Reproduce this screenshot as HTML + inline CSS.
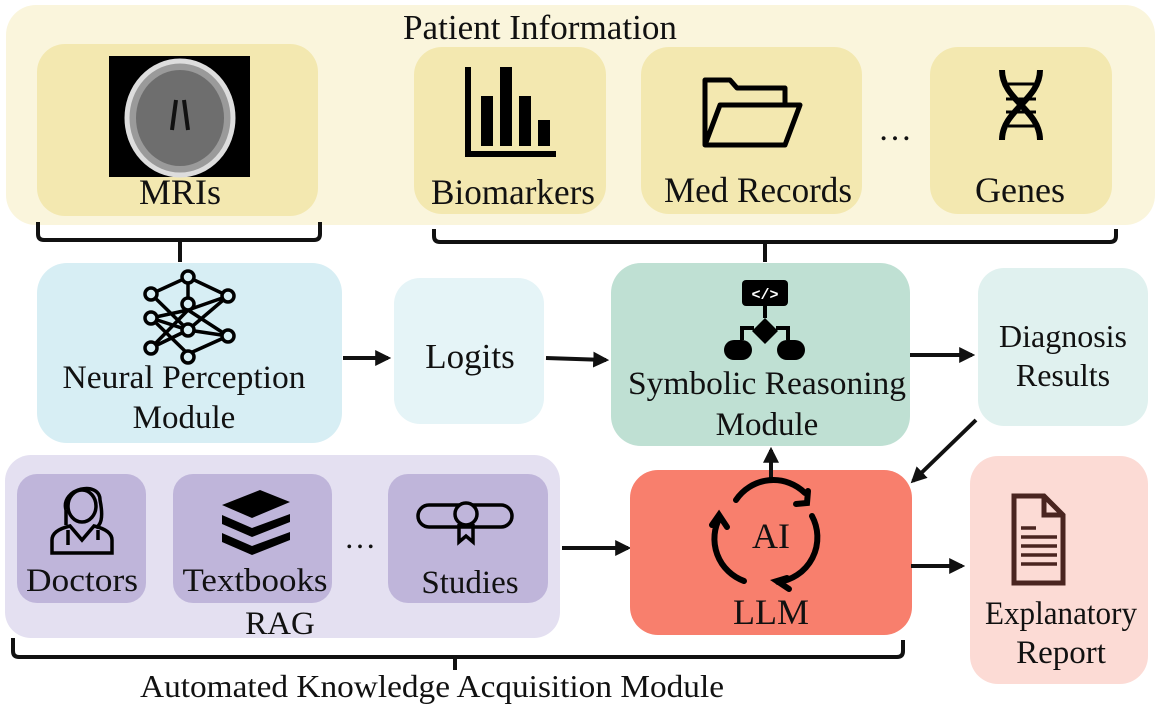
<!DOCTYPE html>
<html><head><meta charset="utf-8"><style>
html,body{margin:0;padding:0;background:#fff}
svg{display:block}
text{font-family:"Liberation Serif",serif;fill:#111}
</style></head><body>
<svg width="1162" height="707" viewBox="0 0 1162 707" xmlns="http://www.w3.org/2000/svg">
<defs>
<marker id="ah" markerWidth="4" markerHeight="4" refX="3.2" refY="2" orient="auto" markerUnits="strokeWidth">
<path d="M0,0 L4,2 L0,4 z" fill="#111"/></marker>
</defs>
<!-- Patient information -->
<rect x="6" y="5" width="1149" height="220" rx="30" fill="#faf5dc"/>
<text x="540" y="39" font-size="35" text-anchor="middle" textLength="274" lengthAdjust="spacingAndGlyphs">Patient Information</text>
<rect x="37" y="44" width="281" height="172" rx="28" fill="#f3e8b0"/>
<rect x="109" y="56" width="141" height="121" fill="#000"/>
<ellipse cx="180" cy="118" rx="53" ry="57" fill="#9a9a9a" stroke="#ddd" stroke-width="5"/>
<ellipse cx="180" cy="118" rx="44" ry="48" fill="#6e6e6e"/>
<path d="M176,100 L172,130 M184,100 L188,130" stroke="#111" stroke-width="4"/>
<text x="180" y="204" font-size="36" text-anchor="middle">MRIs</text>

<rect x="414" y="47" width="192" height="167" rx="28" fill="#f3e8b0"/>
<path d="M468,67 V154 H556" stroke="#000" stroke-width="6" fill="none"/>
<rect x="481" y="96" width="12" height="50" fill="#000"/>
<rect x="500" y="67" width="12" height="79" fill="#000"/>
<rect x="519" y="96" width="12" height="50" fill="#000"/>
<rect x="538" y="120" width="12" height="26" fill="#000"/>
<text x="513" y="204" font-size="36" text-anchor="middle" textLength="164" lengthAdjust="spacingAndGlyphs">Biomarkers</text>

<rect x="641" y="47" width="221" height="167" rx="28" fill="#f3e8b0"/>
<path d="M705,145 V80 H730 L737,88 H785 V105 M705,145 L720,105 H800 L785,145 Z" stroke="#000" stroke-width="5" fill="none" stroke-linejoin="round"/>
<text x="758" y="202" font-size="36" text-anchor="middle" textLength="188" lengthAdjust="spacingAndGlyphs">Med Records</text>
<text x="895" y="140" font-size="34" text-anchor="middle">…</text>

<rect x="930" y="47" width="182" height="167" rx="28" fill="#f3e8b0"/>
<path d="M1002,70 C1002,100 1040,110 1040,140 M1040,70 C1040,100 1002,110 1002,140" stroke="#000" stroke-width="6" fill="none"/>
<path d="M1008,84 H1034 M1006,99 H1036 M1006,112 H1036 M1008,126 H1034" stroke="#000" stroke-width="3"/>
<text x="1020" y="202" font-size="36" text-anchor="middle">Genes</text>

<!-- top brackets -->
<path d="M38,222 V234 Q38,240 44,240 H314 Q320,240 320,234 V222 M180,240 V262" stroke="#111" stroke-width="4" fill="none"/>
<path d="M434,229 V236 Q434,242 440,242 H1110 Q1116,242 1116,236 V229 M765,242 V262" stroke="#111" stroke-width="4" fill="none"/>

<!-- Neural -->
<rect x="37" y="263" width="305" height="180" rx="30" fill="#d7eef4"/>
<g stroke="#000" stroke-width="3.5" fill="none">
<path d="M151,294 L188,330 L228,296 M151,294 L188,277 L228,296 M151,318 L188,310 M151,318 L188,330 L228,336 M151,318 L188,354 M151,348 L188,330 M151,348 L188,310 M188,310 L228,296 M188,277 L188,310 L228,336 M188,354 L228,336"/>
<circle cx="151" cy="294" r="6" fill="#d7eef4"/><circle cx="151" cy="318" r="6" fill="#d7eef4"/><circle cx="151" cy="348" r="6" fill="#d7eef4"/>
<circle cx="188" cy="277" r="6" fill="#d7eef4"/><circle cx="188" cy="304" r="6" fill="#d7eef4"/><circle cx="188" cy="330" r="6" fill="#d7eef4"/><circle cx="188" cy="357" r="6" fill="#d7eef4"/>
<circle cx="228" cy="296" r="6" fill="#d7eef4"/><circle cx="228" cy="336" r="6" fill="#d7eef4"/>
</g>
<text x="184" y="388" font-size="33" text-anchor="middle" textLength="243" lengthAdjust="spacingAndGlyphs">Neural Perception</text>
<text x="184" y="428" font-size="33" text-anchor="middle">Module</text>

<line x1="343" y1="358" x2="388" y2="358" stroke="#111" stroke-width="4" marker-end="url(#ah)"/>
<rect x="394" y="278" width="150" height="146" rx="26" fill="#e5f4f7"/>
<text x="470" y="368" font-size="35" text-anchor="middle">Logits</text>
<line x1="546" y1="358" x2="606" y2="360" stroke="#111" stroke-width="4" marker-end="url(#ah)"/>

<!-- Symbolic -->
<rect x="611" y="263" width="299" height="183" rx="30" fill="#bfe0d3"/>
<rect x="742" y="280" width="46" height="26" rx="4" fill="#000"/>
<text x="765" y="299" font-size="15" text-anchor="middle" style="fill:#fff;font-family:'Liberation Mono',monospace;font-weight:bold">&lt;/&gt;</text>
<path d="M765,306 V318 M742,340 V328 H754 M788,340 V328 H776" stroke="#000" stroke-width="4" fill="none"/>
<path d="M765,318 L778,331 L765,344 L752,331 Z" fill="#000"/>
<rect x="724" y="340" width="28" height="20" rx="10" fill="#000"/>
<rect x="777" y="340" width="28" height="20" rx="10" fill="#000"/>
<text x="767" y="394" font-size="33" text-anchor="middle" textLength="278" lengthAdjust="spacingAndGlyphs">Symbolic Reasoning</text>
<text x="767" y="435" font-size="33" text-anchor="middle">Module</text>

<line x1="910" y1="355" x2="972" y2="355" stroke="#111" stroke-width="4" marker-end="url(#ah)"/>
<rect x="978" y="268" width="170" height="158" rx="26" fill="#e0f1ef"/>
<text x="1063" y="347" font-size="32" text-anchor="middle">Diagnosis</text>
<text x="1063" y="386" font-size="32" text-anchor="middle">Results</text>

<line x1="976" y1="420" x2="913" y2="481" stroke="#111" stroke-width="4" marker-end="url(#ah)"/>

<!-- RAG -->
<rect x="5" y="455" width="555" height="183" rx="26" fill="#e4e0f1"/>
<rect x="17" y="474" width="129" height="129" rx="20" fill="#bfb5da"/>
<rect x="173" y="474" width="159" height="129" rx="20" fill="#bfb5da"/>
<rect x="388" y="474" width="160" height="129" rx="20" fill="#bfb5da"/>
<g stroke="#000" stroke-width="3.5" fill="none">
<path d="M66,510 C60,488 100,480 100,500 C104,520 100,525 96,528 M66,510 L66,525"/>
<ellipse cx="82" cy="506" rx="14" ry="16"/>
<path d="M52,553 V540 C52,530 66,527 70,526 L82,540 L94,526 C98,527 112,530 112,540 V553 Z"/>
<path d="M68,530 V545 M98,530 V540"/>
</g>
<g fill="#000">
<path d="M222,505 L260,490 L290,502 L252,518 Z"/>
<path d="M222,515 L252,528 L290,514 L290,522 L252,537 L222,524 Z"/>
<path d="M222,533 L252,546 L290,532 L290,540 L252,555 L222,542 Z"/>
</g>
<g stroke="#000" stroke-width="3.5" fill="none">
<rect x="418" y="505" width="94" height="22" rx="11"/>
<circle cx="466" cy="514" r="11" fill="#bfb5da"/>
<path d="M459,524 V542 L466,536 L473,542 V524"/>
</g>
<text x="82" y="591" font-size="33" text-anchor="middle" textLength="112" lengthAdjust="spacingAndGlyphs">Doctors</text>
<text x="255" y="591" font-size="33" text-anchor="middle" textLength="145" lengthAdjust="spacingAndGlyphs">Textbooks</text>
<text x="470" y="593" font-size="33" text-anchor="middle">Studies</text>
<text x="360" y="548" font-size="32" text-anchor="middle">…</text>
<text x="280" y="634" font-size="33" text-anchor="middle">RAG</text>

<line x1="562" y1="548" x2="628" y2="548" stroke="#111" stroke-width="4" marker-end="url(#ah)"/>

<!-- LLM -->
<rect x="630" y="470" width="282" height="165" rx="28" fill="#f87f6d"/>
<line x1="771" y1="482" x2="771" y2="450" stroke="#111" stroke-width="4" marker-end="url(#ah)"/>
<g stroke="#000" stroke-width="6" fill="none" stroke-linecap="round">
<path d="M736,500 A45,45 0 0 1 805,493"/>
<path d="M796,504 L807,503 L808,491"/>
<path d="M812,516 A45,45 0 0 1 778,582"/>
<path d="M787,578 L777,581 L789,589"/>
<path d="M744,581 A45,45 0 0 1 720,517"/>
<path d="M712,525 L719,515 L727,527"/>
</g>
<text x="771" y="548" font-size="36" text-anchor="middle">AI</text>
<text x="771" y="624" font-size="36" text-anchor="middle">LLM</text>

<line x1="911" y1="566" x2="962" y2="566" stroke="#111" stroke-width="4" marker-end="url(#ah)"/>
<rect x="970" y="456" width="178" height="228" rx="28" fill="#fcdbd5"/>
<path d="M1014,496 H1044 L1063,515 V583 H1014 Z" fill="none" stroke="#4a2520" stroke-width="5"/>
<path d="M1044,496 V515 H1063" fill="none" stroke="#4a2520" stroke-width="5"/>
<path d="M1021,528 H1036 M1021,537 H1057 M1021,546 H1057 M1021,555 H1057 M1021,564 H1057" stroke="#4a2520" stroke-width="3.5"/>
<text x="1061" y="624" font-size="33" text-anchor="middle" textLength="152" lengthAdjust="spacingAndGlyphs">Explanatory</text>
<text x="1061" y="663" font-size="33" text-anchor="middle">Report</text>

<!-- bottom bracket -->
<path d="M13,638 V651 Q13,657 19,657 H897 Q903,657 903,651 V640 M455,657 V670" stroke="#111" stroke-width="4" fill="none"/>
<text x="432" y="697" font-size="32" text-anchor="middle" textLength="584" lengthAdjust="spacingAndGlyphs">Automated Knowledge Acquisition Module</text>
</svg>
</body></html>
